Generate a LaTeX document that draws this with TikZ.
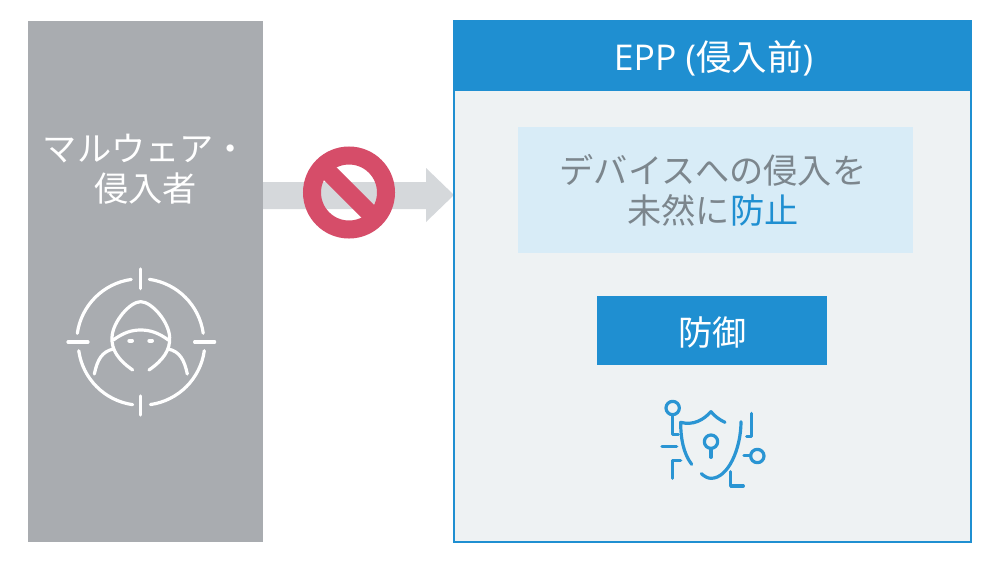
\documentclass[tikz,border=0pt]{standalone}
\usepackage{fontspec}
\setmainfont{Noto Sans CJK JP}
\newfontfamily\latinfont{Open Sans}
\definecolor{eppblue}{HTML}{1F8FD1}
\definecolor{panelgray}{HTML}{A9ACB0}
\definecolor{palebg}{HTML}{EEF2F3}
\definecolor{lightblue}{HTML}{D8ECF7}
\definecolor{arrowgray}{HTML}{D5D8DB}
\definecolor{stopred}{HTML}{D64D69}
\definecolor{textgray}{HTML}{7C868D}
\tikzset{
  box/.style={anchor=north west,inner sep=0pt,outer sep=0pt},
  label/.style={font=\fontsize{34.2}{40}\selectfont,align=center,inner sep=0pt},
  iconwhite/.style={draw=white,line width=3.2pt,line cap=round,line join=round},
  iconblue/.style={draw=eppblue!95!white,line width=3.2pt,line cap=round,line join=round},
}
\begin{document}
\begin{tikzpicture}[x=1pt,y=-1pt]
\useasboundingbox (0,0) rectangle (1000,563);
\fill[white] (0,0) rectangle (1000,563);
% left panel
\node[box,fill=panelgray,minimum width=235pt,minimum height=521pt] (panel) at (28,21) {};
\node[label,text=white] (attacker) at (145.5,169) {マルウェア・\\侵入者};
% arrow
\fill[arrowgray] (263,182) -- (426,182) -- (426,168) -- (454,195) -- (426,222) -- (426,209) -- (263,209) -- cycle;
% right panel
\node[box,fill=palebg,draw=eppblue,line width=1.5pt,minimum width=517pt,minimum height=521pt] (epp) at (454,21) {};
\node[box,fill=eppblue,minimum width=518pt,minimum height=70pt] (head) at (453.5,21) {};
\node[label,text=white,font=\fontsize{35.5}{40}\selectfont] (headtext) at (713.5,58) {{\latinfont EPP (}侵入前{\latinfont )}};
\node[box,fill=lightblue,minimum width=395pt,minimum height=126pt] (desc) at (518,127) {};
\node[label,text=textgray] (desctext) at (713,190) {デバイスへの侵入を\\未然に\textcolor{eppblue}{防止}};
\node[box,fill=eppblue,minimum width=230pt,minimum height=69pt] (def) at (597,296) {};
\node[label,text=white] (deftext) at (712.5,332) {防御};
% stop sign
\draw[stopred,line width=18pt] (349,192.5) circle (37);
\draw[stopred,line width=18pt] (322.8,166.3) -- (375.2,218.7);
% hacker icon
\begin{scope}[shift={(50,250)},x=0.3333pt,y=-0.3333pt]
  \begin{scope}[iconwhite]
    \draw (272,57) -- (272,116);
    \draw (272,438) -- (272,495);
    \draw (54,276) -- (114,276);
    \draw (434,276) -- (494,276);
    \draw (298,88) arc[start angle=82,end angle=8,radius=190,y radius=-190];
    \draw (463,302) arc[start angle=-8,end angle=-82,radius=190,y radius=-190];
    \draw (248,464) arc[start angle=-98,end angle=-172,radius=190,y radius=-190];
    \draw (82,250) arc[start angle=172,end angle=98,radius=190,y radius=-190];
    \draw (248,360) .. controls (205,330) and (184,300) .. (186,262)
       .. controls (188,215) and (240,155) .. (272,155)
       .. controls (305,155) and (357,215) .. (359,262)
       .. controls (361,300) and (340,330) .. (297,360);
    \draw (190,270) .. controls (220,248) and (245,240) .. (272,240)
       .. controls (300,240) and (325,248) .. (355,270);
    \draw (133,372) .. controls (142,330) and (155,305) .. (190,297);
    \draw (412,372) .. controls (403,330) and (390,305) .. (355,297);
    \draw[line width=4pt] (238,272) -- (246,272);
    \draw[line width=4pt] (298,272) -- (306,272);
  \end{scope}
\end{scope}
% shield icon
\begin{scope}[shift={(640,385)},x=0.3333pt,y=-0.3333pt]
  \begin{scope}[iconblue]
    \draw (98,69) circle[radius=20];
    \draw (98,90) -- (98,148) -- (115,148);
    \draw (335,85) -- (335,155) -- (320,155);
    \draw (66,185) -- (110,185);
    \draw (122,227) -- (97,227) -- (97,280);
    \draw (272,260) -- (272,303) -- (310,303);
    \draw (352,213) circle[radius=20];
    \draw (312,212) -- (331,212);
    \draw (213,170) circle[radius=20];
    \draw (213,191) -- (213,217);
    \draw (155,238) .. controls (130,205) and (122,160) .. (122,112)
       .. controls (160,122) and (190,105) .. (213,80)
       .. controls (225,95) and (240,105) .. (255,112);
    \draw (303,110) .. controls (303,190) and (265,280) .. (213,280)
       .. controls (203,280) and (193,274) .. (184,266);
  \end{scope}
\end{scope}
\end{tikzpicture}
\end{document}
